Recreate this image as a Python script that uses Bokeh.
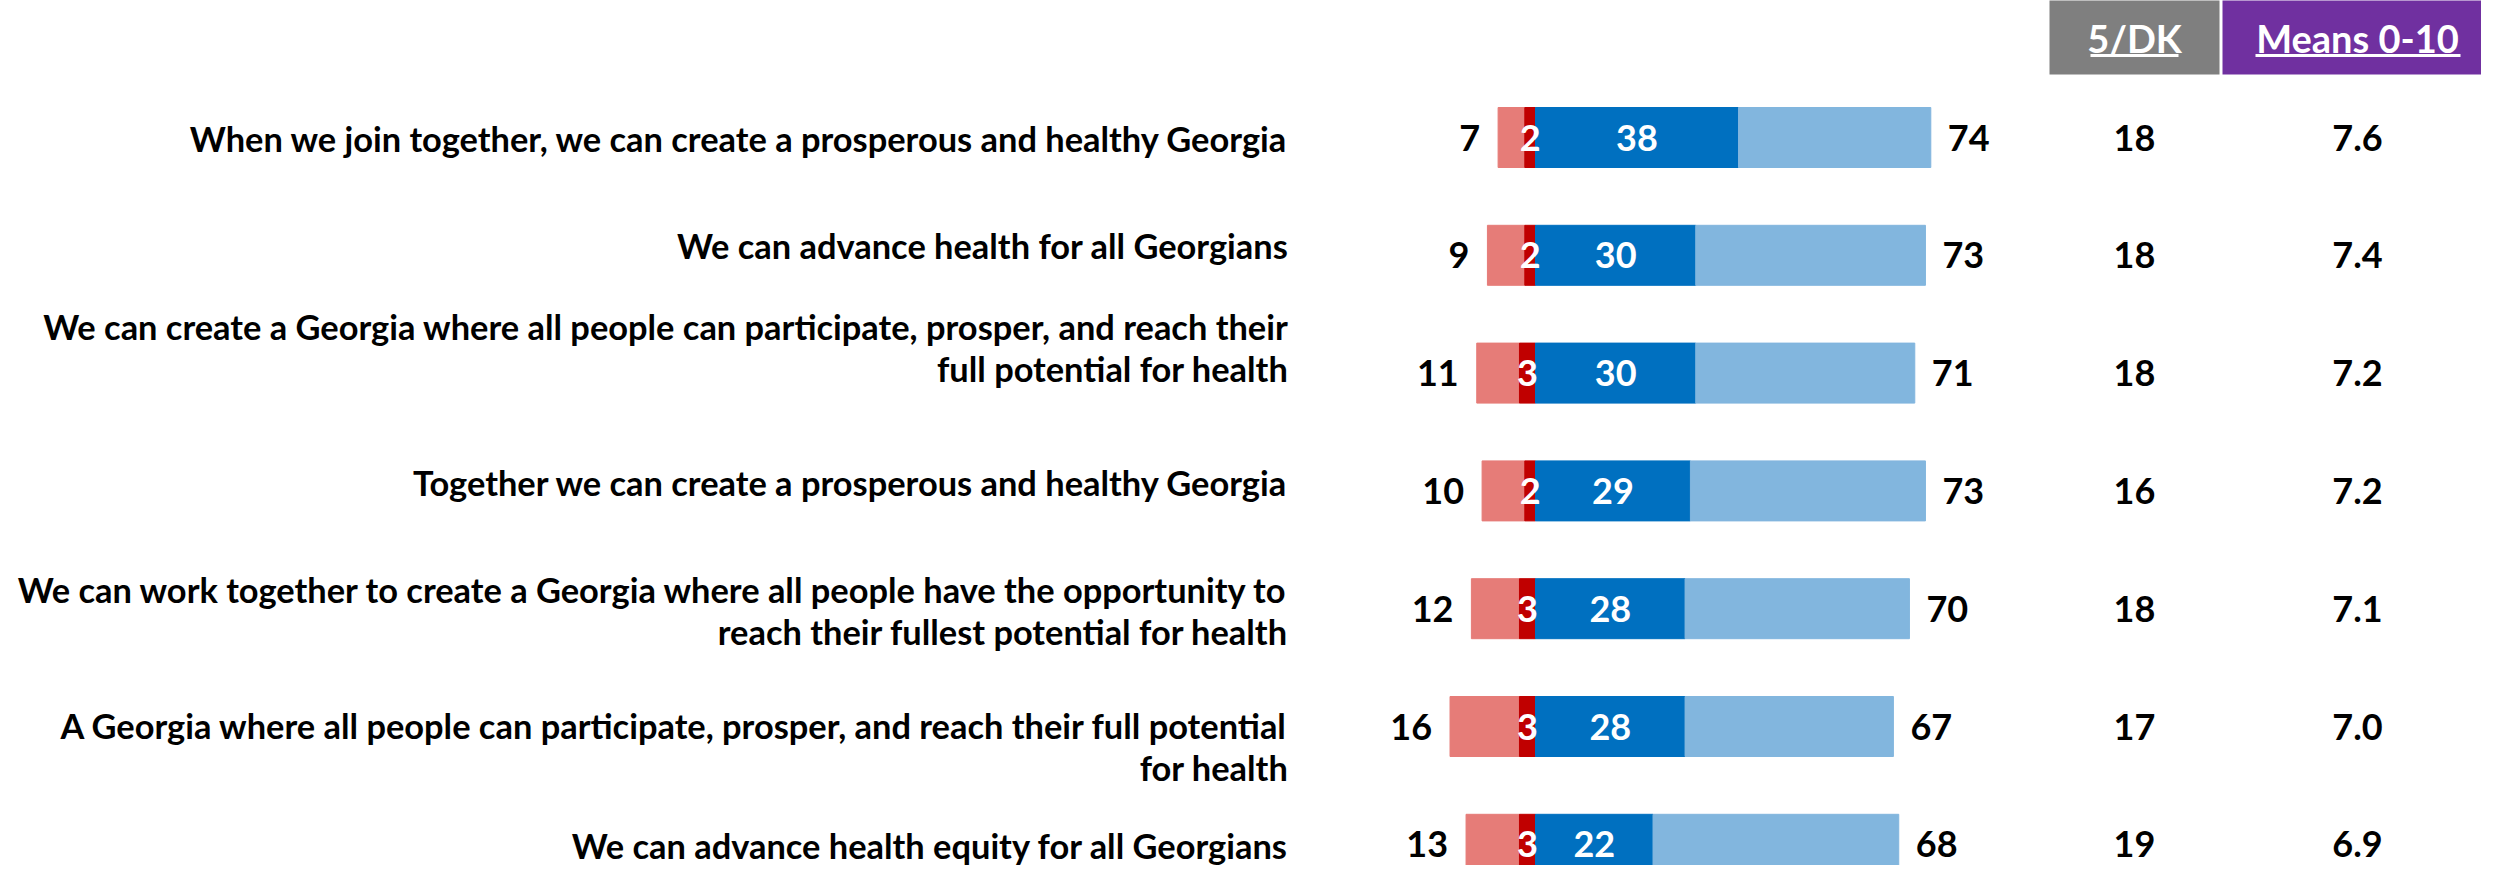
from bokeh.plotting import figure
from bokeh.models import ColumnDataSource, Range1d
from bokeh.core.properties import value
from bokeh.embed import file_html
from bokeh.resources import INLINE

# ---------------- data ----------------
statements = [
    ["When we join together, we can create a prosperous and healthy Georgia"],
    ["We can advance health for all Georgians"],
    ["We can create a Georgia where all people can participate, prosper, and reach their",
     "full potential for health"],
    ["Together we can create a prosperous and healthy Georgia"],
    ["We can work together to create a Georgia where all people have the opportunity to",
     "reach their fullest potential for health"],
    ["A Georgia where all people can participate, prosper, and reach their full potential",
     "for health"],
    ["We can advance health equity for all Georgians"],
]
neg_total = [7, 9, 11, 10, 12, 16, 13]
neg_strong = [2, 2, 3, 2, 3, 3, 3]
pos_strong = [38, 30, 30, 29, 28, 28, 22]
pos_total = [74, 73, 71, 73, 70, 67, 68]
dk = [18, 18, 18, 16, 18, 17, 19]
means = [7.6, 7.4, 7.2, 7.2, 7.1, 7.0, 6.9]
headers = ["5/DK", "Means 0-10"]

# ---------------- layout (pixels of the reference) ----------------
W, H = 2481, 865
MARGIN = 8
PX = 5.342          # pixels per percentage point
ZERO_X = 1543       # x of the zero line
ROW0, STEP = 145, 117.8
BAR_H = 60


def fx(px):
    return (px - ZERO_X) / PX


def fy(py):
    return (py - ROW0) / STEP


FONT = value("Lato")
C_LRED, C_DRED = "#E67C78", "#C00000"
C_DBLUE, C_LBLUE = "#0070C0", "#82B6DE"

rows = list(range(len(statements)))
src = ColumnDataSource(dict(
    y=rows,
    nt=[-v for v in neg_total],
    ns=[-v for v in neg_strong],
    ps=pos_strong,
    pt=pos_total,
    ns_mid=[-v / 2 for v in neg_strong],
    ps_mid=[v / 2 for v in pos_strong],
    nt_lbl=[str(v) for v in neg_total],
    ns_lbl=[str(v) for v in neg_strong],
    ps_lbl=[str(v) for v in pos_strong],
    pt_lbl=[str(v) for v in pos_total],
    dk_lbl=[str(v) for v in dk],
    mean_lbl=[f"{v:.1f}" for v in means],
    dk_x=[fx(2142)] * len(rows),
    mean_x=[fx(2365)] * len(rows),
))

p = figure(width=W, height=H, output_backend="svg", toolbar_location=None,
           x_range=Range1d(fx(MARGIN), fx(MARGIN + W)),
           y_range=Range1d(fy(MARGIN + H), fy(MARGIN)),
           min_border=0, x_axis_location=None, y_axis_location=None,
           outline_line_color=None, background_fill_color="white",
           border_fill_color="white")
p.xgrid.visible = False
p.ygrid.visible = False

bh = BAR_H / STEP
p.hbar(y="y", left="nt", right="ns", height=bh, color=C_LRED, source=src)
p.hbar(y="y", left="ns", right=0, height=bh, color=C_DRED, source=src)
p.hbar(y="y", left=0, right="ps", height=bh, color=C_DBLUE, source=src)
p.hbar(y="y", left="ps", right="pt", height=bh, color=C_LBLUE, source=src)

VAL_SIZE = "36px"
common = dict(text_font=FONT, text_font_style="bold", text_font_size=VAL_SIZE,
              text_baseline="middle", source=src)
p.text(x="nt", y="y", text="nt_lbl", x_offset=-18, text_align="right",
       text_color="black", **common)
p.text(x="pt", y="y", text="pt_lbl", x_offset=17, text_align="left",
       text_color="black", **common)
p.text(x="ns_mid", y="y", text="ns_lbl", text_align="center",
       text_color="white", **common)
p.text(x="ps_mid", y="y", text="ps_lbl", text_align="center",
       text_color="white", **common)
p.text(x="dk_x", y="y", text="dk_lbl", text_align="center",
       text_color="black", **common)
p.text(x="mean_x", y="y", text="mean_lbl", text_align="center",
       text_color="black", **common)

# statement labels (right aligned), per-row vertical offset of the first line
first_line_offset = [1, -10, -47, -8, -19, -1, 1]
LINE_GAP = 42
lx, ly, lt = [], [], []
for i, lines in enumerate(statements):
    for j, t in enumerate(lines):
        lx.append(fx(1296))
        ly.append(fy(ROW0 + i * STEP + first_line_offset[i] + j * LINE_GAP))
        lt.append(t)
p.text(x=lx, y=ly, text=lt, text_align="right", text_baseline="middle",
       text_font=FONT, text_font_style="bold", text_font_size="34.4px",
       text_color="black")

# header boxes
p.quad(left=[fx(2057), fx(2230)], right=[fx(2227), fx(2497)],
       top=[fy(7), fy(7)], bottom=[fy(82), fy(82)],
       color=["#7F7F7F", "#7030A0"], line_color=None)
p.text(x=[fx(2142), fx(2365)], y=[fy(45), fy(45)], text=headers,
       text_align="center", text_baseline="middle", text_font=FONT,
       text_font_style="bold", text_font_size="38px", text_color="white")
p.segment(x0=[fx(2098), fx(2263)], x1=[fx(2186), fx(2468)],
          y0=[fy(63), fy(63)], y1=[fy(63), fy(63)],
          line_color="white", line_width=3)

open("out.html", "w").write(file_html(p, INLINE))
